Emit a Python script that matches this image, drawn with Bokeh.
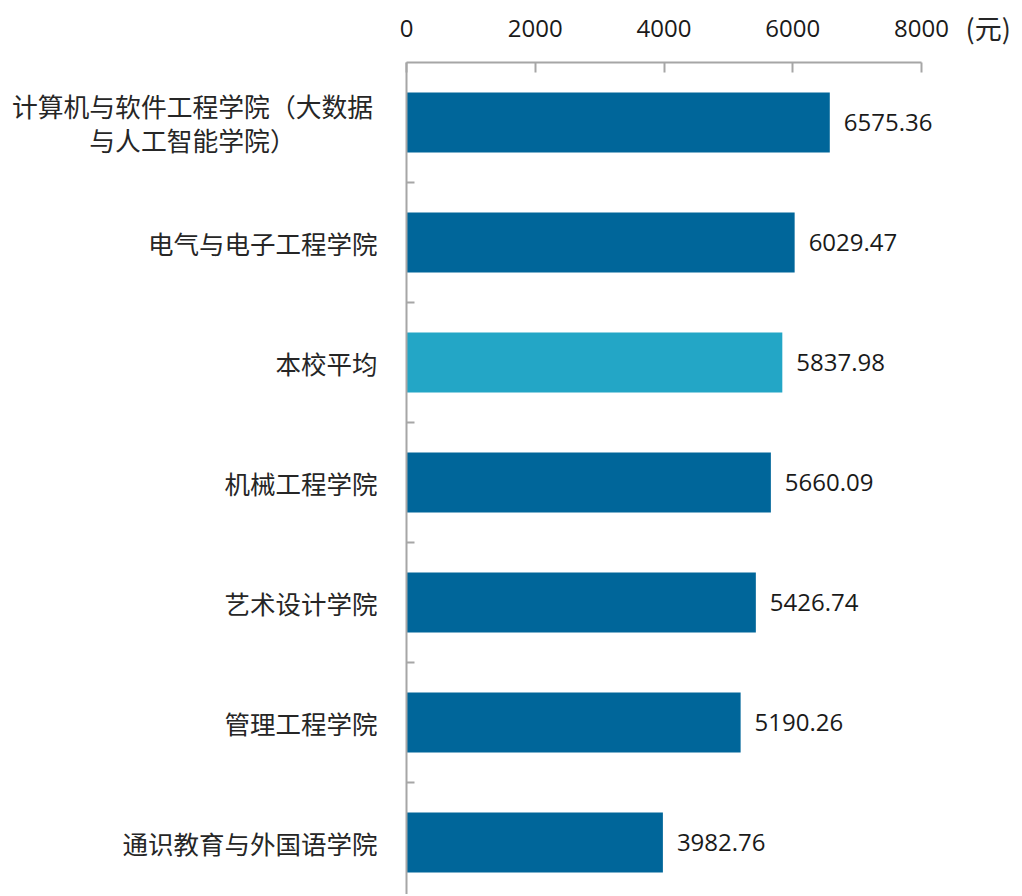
from bokeh.plotting import figure
from bokeh.models import Range1d, LinearAxis, FixedTicker, ColumnDataSource
from bokeh.core.properties import value
from bokeh.embed import file_html
from bokeh.resources import INLINE

colleges = [
    "计算机与软件工程学院（大数据\n与人工智能学院）",
    "电气与电子工程学院",
    "本校平均",
    "机械工程学院",
    "艺术设计学院",
    "管理工程学院",
    "通识教育与外国语学院",
]
values = [6575.36, 6029.47, 5837.98, 5660.09, 5426.74, 5190.26, 3982.76]
x_ticks = [0, 2000, 4000, 6000, 8000]
unit = "(元)"
highlight = "本校平均"

DARK = "#00669a"
LIGHT = "#23a6c6"
AX = "#a6a6a6"
CJK = "Noto Sans CJK SC"
NUM = "Open Sans"

W, H = 1020, 894
X0_PX, TOP_PX, BAND_PX = 406, 62, 120
k = 515 / 8000.0  # pixels per unit

pos = list(range(len(colleges)))
colors = [LIGHT if c == highlight else DARK for c in colleges]
axis_y = -0.5
y_bottom = (H - TOP_PX) / BAND_PX + axis_y

src = ColumnDataSource(dict(
    y=pos,
    v=values,
    zero=[0] * len(values),
    label=colleges,
    vtext=[f"{v:.2f}" for v in values],
    color=colors,
))

p = figure(
    width=W, height=H,
    output_backend="svg", toolbar_location=None,
    x_axis_location=None, y_axis_location=None,
    x_range=Range1d(-X0_PX / k, (W - X0_PX) / k),
    y_range=Range1d(y_bottom, axis_y - TOP_PX / BAND_PX),
    min_border_left=0, min_border_right=0, min_border_bottom=0, min_border_top=0,
    outline_line_color=None,
)
p.xgrid.visible = False
p.ygrid.visible = False

xa = LinearAxis(
    fixed_location=axis_y,
    ticker=FixedTicker(ticks=x_ticks),
    bounds=(min(x_ticks), max(x_ticks)),
    major_tick_in=10, major_tick_out=0,
    minor_tick_in=0, minor_tick_out=0,
    axis_line_color=AX, axis_line_width=2,
    major_tick_line_color=AX, major_tick_line_width=2,
    major_label_text_font=NUM, major_label_text_font_size="24px",
    major_label_text_color="#1a1a1a", major_label_standoff=26,
)
p.add_layout(xa, "above")

bounds_ticks = [i + 0.5 for i in pos[:-1]]
ya = LinearAxis(
    fixed_location=0,
    bounds=(axis_y, y_bottom),
    ticker=FixedTicker(ticks=bounds_ticks),
    major_label_overrides={t: "" for t in bounds_ticks},
    major_tick_in=8, major_tick_out=0,
    minor_tick_in=0, minor_tick_out=0,
    axis_line_color=AX, axis_line_width=2,
    major_tick_line_color=AX, major_tick_line_width=2,
    major_label_standoff=0,
)
p.add_layout(ya, "left")

p.hbar(y="y", left="zero", right="v", height=0.5, fill_color="color",
       line_color=None, source=src)

single = ColumnDataSource(dict(
    y=[y for y, c in zip(pos, colleges) if "\n" not in c],
    x=[0] * sum(1 for c in colleges if "\n" not in c),
    label=[c for c in colleges if "\n" not in c],
))
multi = ColumnDataSource(dict(
    y=[y for y, c in zip(pos, colleges) if "\n" in c],
    x=[0] * sum(1 for c in colleges if "\n" in c),
    label=[c for c in colleges if "\n" in c],
))

p.text(x="x", y="y", text="label", source=single, x_offset=-29,
       text_align="right", text_baseline="middle",
       text_font=value(CJK), text_font_size="25.5px", text_color="#262626")
p.text(x="x", y="y", text="label", source=multi, x_offset=-214,
       text_align="center", text_baseline="middle", text_line_height=0.9,
       text_font=value(CJK), text_font_size="25.8px", text_color="#262626")

p.text(x="v", y="y", text="vtext", source=src, x_offset=14,
       text_align="left", text_baseline="middle",
       text_font=value(NUM), text_font_size="24px", text_color="#1a1a1a")

unit_src = ColumnDataSource(dict(x=[max(x_ticks)], y=[axis_y], t=[unit]))
p.text(x="x", y="y", text="t", source=unit_src, x_offset=44, y_offset=-35,
       text_align="left", text_baseline="middle",
       text_font=value(CJK), text_font_size="27px", text_color="#262626")

open("out.html", "w").write(file_html(p, INLINE))
